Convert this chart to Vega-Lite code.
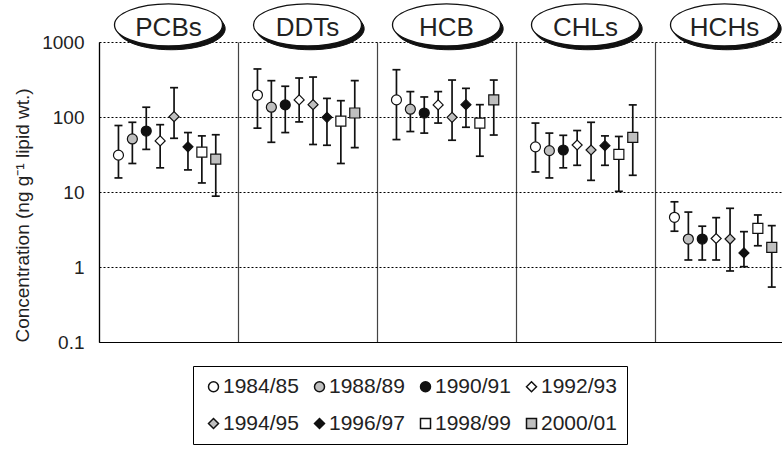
{
  "$schema": "https://vega.github.io/schema/vega-lite/v6.json",
  "width": 683,
  "height": 300,
  "autosize": "none",
  "padding": {"left": 99, "top": 42, "right": 0, "bottom": 109},
  "config": {
    "view": {"stroke": null},
    "font": "Liberation Sans"
  },
  "datasets": {
    "conc": [
      {"compound": "PCBs", "year": "1984/85", "mean": 31, "lo": 15.4, "hi": 77},
      {"compound": "PCBs", "year": "1988/89", "mean": 51, "lo": 24, "hi": 85},
      {"compound": "PCBs", "year": "1990/91", "mean": 65, "lo": 37, "hi": 135},
      {"compound": "PCBs", "year": "1992/93", "mean": 48, "lo": 21, "hi": 79},
      {"compound": "PCBs", "year": "1994/95", "mean": 101, "lo": 52, "hi": 246},
      {"compound": "PCBs", "year": "1996/97", "mean": 40, "lo": 19.7, "hi": 62},
      {"compound": "PCBs", "year": "1998/99", "mean": 34, "lo": 13.2, "hi": 56},
      {"compound": "PCBs", "year": "2000/01", "mean": 27.5, "lo": 8.8, "hi": 58},
      {"compound": "DDTs", "year": "1984/85", "mean": 196, "lo": 71, "hi": 437},
      {"compound": "DDTs", "year": "1988/89", "mean": 135, "lo": 46, "hi": 305},
      {"compound": "DDTs", "year": "1990/91", "mean": 145, "lo": 62, "hi": 257},
      {"compound": "DDTs", "year": "1992/93", "mean": 169, "lo": 86, "hi": 331},
      {"compound": "DDTs", "year": "1994/95", "mean": 146, "lo": 43, "hi": 341},
      {"compound": "DDTs", "year": "1996/97", "mean": 99, "lo": 42, "hi": 177},
      {"compound": "DDTs", "year": "1998/99", "mean": 88, "lo": 24, "hi": 165},
      {"compound": "DDTs", "year": "2000/01", "mean": 113, "lo": 39, "hi": 305},
      {"compound": "HCB", "year": "1984/85", "mean": 169, "lo": 50, "hi": 427},
      {"compound": "HCB", "year": "1988/89", "mean": 127, "lo": 64, "hi": 218},
      {"compound": "HCB", "year": "1990/91", "mean": 113, "lo": 61, "hi": 185},
      {"compound": "HCB", "year": "1992/93", "mean": 145, "lo": 83, "hi": 218},
      {"compound": "HCB", "year": "1994/95", "mean": 99, "lo": 49, "hi": 311},
      {"compound": "HCB", "year": "1996/97", "mean": 146, "lo": 73, "hi": 241},
      {"compound": "HCB", "year": "1998/99", "mean": 83, "lo": 30, "hi": 146},
      {"compound": "HCB", "year": "2000/01", "mean": 169, "lo": 57.5, "hi": 311},
      {"compound": "CHLs", "year": "1984/85", "mean": 40, "lo": 18.5, "hi": 83},
      {"compound": "CHLs", "year": "1988/89", "mean": 35.6, "lo": 15.4, "hi": 61},
      {"compound": "CHLs", "year": "1990/91", "mean": 36.3, "lo": 21, "hi": 57},
      {"compound": "CHLs", "year": "1992/93", "mean": 42.3, "lo": 22.7, "hi": 66},
      {"compound": "CHLs", "year": "1994/95", "mean": 36.3, "lo": 14.3, "hi": 85},
      {"compound": "CHLs", "year": "1996/97", "mean": 41.5, "lo": 22.7, "hi": 56},
      {"compound": "CHLs", "year": "1998/99", "mean": 31.8, "lo": 10.2, "hi": 55},
      {"compound": "CHLs", "year": "2000/01", "mean": 53.6, "lo": 16.7, "hi": 145},
      {"compound": "HCHs", "year": "1984/85", "mean": 4.6, "lo": 3.0, "hi": 7.4},
      {"compound": "HCHs", "year": "1988/89", "mean": 2.36, "lo": 1.24, "hi": 5.4},
      {"compound": "HCHs", "year": "1990/91", "mean": 2.36, "lo": 1.24, "hi": 3.5},
      {"compound": "HCHs", "year": "1992/93", "mean": 2.4, "lo": 1.24, "hi": 4.55},
      {"compound": "HCHs", "year": "1994/95", "mean": 2.36, "lo": 0.885, "hi": 6.06},
      {"compound": "HCHs", "year": "1996/97", "mean": 1.54, "lo": 1.01, "hi": 2.96},
      {"compound": "HCHs", "year": "1998/99", "mean": 3.28, "lo": 1.92, "hi": 4.94},
      {"compound": "HCHs", "year": "2000/01", "mean": 1.83, "lo": 0.54, "hi": 3.56}
    ],
    "panels": [
      {"compound": "PCBs"},
      {"compound": "DDTs"},
      {"compound": "HCB"},
      {"compound": "CHLs"},
      {"compound": "HCHs"}
    ]
  },
  "encoding": {
    "x": {
      "field": "compound",
      "type": "nominal",
      "scale": {
        "domain": ["PCBs", "DDTs", "HCB", "CHLs", "HCHs"],
        "range": [0, 695],
        "paddingInner": 0,
        "paddingOuter": 0
      },
      "axis": {
        "title": null,
        "labels": false,
        "ticks": false,
        "domain": true,
        "domainColor": "black",
        "domainWidth": 1.2,
        "grid": true,
        "gridColor": "#444444",
        "gridWidth": 1.2,
        "gridDash": [],
        "bandPosition": 0
      }
    }
  },
  "layer": [
    {
      "data": {"name": "conc"},
      "mark": {"type": "rule", "stroke": "#111111", "strokeWidth": 1.7},
      "encoding": {
        "xOffset": {
          "field": "year",
          "type": "nominal",
          "scale": {"paddingInner": 0, "paddingOuter": 1.07, "align": 0.45}
        },
        "y": {
          "field": "lo",
          "type": "quantitative",
          "scale": {"type": "log", "domain": [0.1, 1000]},
          "axis": {
            "title": "Concentration (ng g⁻¹ lipid wt.)",
            "values": [0.1, 1, 10, 100, 1000],
            "format": "~g",
            "labelFontSize": 19,
            "labelFontWeight": "normal",
            "labelColor": "#222222",
            "labelPadding": 15,
            "labelOverlap": false,
            "labelBound": false,
            "labelFlush": false,
            "ticks": false,
            "domain": true,
            "domainColor": "black",
            "domainWidth": 1.2,
            "grid": true,
            "gridColor": "black",
            "gridDash": [2, 2],
            "gridWidth": 1,
            "titleFontSize": 19,
            "titleFontWeight": "normal",
            "titleColor": "#222222",
            "titleX": -77,
            "titleY": 173,
            "titleAngle": -90,
            "titleAlign": "center",
            "titleBaseline": "middle"
          }
        },
        "y2": {"field": "hi"}
      }
    },
    {
      "data": {"name": "conc"},
      "mark": {"type": "tick", "orient": "horizontal", "size": 8, "thickness": 1.7, "color": "#111111", "opacity": 1},
      "encoding": {
        "xOffset": {"field": "year", "type": "nominal"},
        "y": {"field": "lo", "type": "quantitative", "axis": {"title": "Concentration (ng g⁻¹ lipid wt.)"}}
      }
    },
    {
      "data": {"name": "conc"},
      "mark": {"type": "tick", "orient": "horizontal", "size": 8, "thickness": 1.7, "color": "#111111", "opacity": 1},
      "encoding": {
        "xOffset": {"field": "year", "type": "nominal"},
        "y": {"field": "hi", "type": "quantitative", "axis": {"title": "Concentration (ng g⁻¹ lipid wt.)"}}
      }
    },
    {
      "data": {"name": "conc"},
      "mark": {"type": "point", "filled": true, "size": 100, "stroke": "#111111", "strokeWidth": 1.2, "opacity": 1},
      "encoding": {
        "xOffset": {"field": "year", "type": "nominal"},
        "y": {"field": "mean", "type": "quantitative", "axis": {"title": "Concentration (ng g⁻¹ lipid wt.)"}},
        "fill": {
          "field": "year",
          "type": "nominal",
          "scale": {
            "domain": ["1984/85", "1988/89", "1990/91", "1992/93", "1994/95", "1996/97", "1998/99", "2000/01"],
            "range": ["#ffffff", "#bfbfbf", "#111111", "#ffffff", "#bfbfbf", "#111111", "#ffffff", "#bfbfbf"]
          },
          "legend": {
            "orient": "none",
            "legendX": 94,
            "legendY": 324,
            "columns": 4,
            "direction": "horizontal",
            "title": null,
            "labelFont": "Liberation Sans",
            "labelFontSize": 21,
            "labelFontWeight": "normal",
            "labelColor": "#222222",
            "labelOffset": -1,
            "symbolSize": 100,
            "padding": 10,
            "columnPadding": 10,
            "rowPadding": 15,
            "strokeColor": "black",
            "fillColor": "white",
            "encode": {
              "symbols": {"update": {"stroke": {"value": "#111111"}, "strokeWidth": {"value": 1}}}
            }
          }
        },
        "shape": {
          "field": "year",
          "type": "nominal",
          "scale": {
            "domain": ["1984/85", "1988/89", "1990/91", "1992/93", "1994/95", "1996/97", "1998/99", "2000/01"],
            "range": ["circle", "circle", "circle", "diamond", "diamond", "diamond", "square", "square"]
          },
          "legend": {
            "orient": "none",
            "legendX": 94,
            "legendY": 324,
            "columns": 4,
            "direction": "horizontal",
            "title": null,
            "labelFont": "Liberation Sans",
            "labelFontSize": 21,
            "labelFontWeight": "normal",
            "labelColor": "#222222",
            "labelOffset": -1,
            "symbolSize": 100,
            "padding": 10,
            "columnPadding": 10,
            "rowPadding": 15,
            "strokeColor": "black",
            "fillColor": "white",
            "encode": {
              "symbols": {"update": {"stroke": {"value": "#111111"}, "strokeWidth": {"value": 1}}}
            }
          }
        }
      }
    },
    {
      "data": {"name": "panels"},
      "mark": {
        "type": "point",
        "filled": true,
        "fill": "#111111",
        "stroke": "#111111",
        "strokeWidth": 1,
        "opacity": 1,
        "size": 11664,
        "shape": "M-0.95,0.07C-0.95,-0.1454,-0.5023,-0.32,0.05,-0.32C0.6023,-0.32,1.05,-0.1454,1.05,0.07C1.05,0.2854,0.6023,0.46,0.05,0.46C-0.5023,0.46,-0.95,0.2854,-0.95,0.07Z"
      },
      "encoding": {"y": {"datum": 1690}}
    },
    {
      "data": {"name": "panels"},
      "mark": {
        "type": "point",
        "filled": true,
        "fill": "white",
        "stroke": "#111111",
        "strokeWidth": 1.3,
        "opacity": 1,
        "size": 11664,
        "shape": "M-1,0C-1,-0.2154,-0.5523,-0.39,0,-0.39C0.5523,-0.39,1,-0.2154,1,0C1,0.2154,0.5523,0.39,0,0.39C-0.5523,0.39,-1,0.2154,-1,0Z"
      },
      "encoding": {"y": {"datum": 1690}}
    },
    {
      "data": {"name": "panels"},
      "mark": {"type": "text", "fontSize": 26, "color": "#222222", "align": "center", "baseline": "middle", "font": "Liberation Sans"},
      "encoding": {
        "y": {"datum": 1560},
        "text": {"field": "compound", "type": "nominal"}
      }
    }
  ]
}
